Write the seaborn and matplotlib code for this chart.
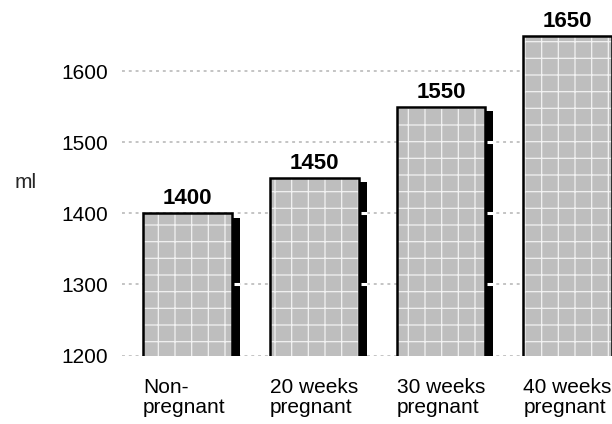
import numpy as np
import pandas as pd
import seaborn as sns
import matplotlib.pyplot as plt
import matplotlib.patheffects as pe

# data
categories = ["Non-\npregnant", "20 weeks\npregnant", "30 weeks\npregnant", "40 weeks\npregnant"]
volume_ml = [1400, 1450, 1550, 1650]
yticks = [1200, 1300, 1400, 1500, 1600]

df = pd.DataFrame({"stage": categories, "ml": volume_ml})

sns.set_theme(style="white")
plt.rcParams['font.family'] = ['Liberation Sans', 'DejaVu Sans']
plt.rcParams['hatch.linewidth'] = 0.9

fig = plt.figure(figsize=(6.12, 4.24), dpi=100)
ax = fig.add_axes([122 / 612, 68.5 / 424, 490 / 612, 355.5 / 424])

w = 0.70

# faint dotted gridlines behind the bars
ax.yaxis.grid(True, color="#c4c4c4", linestyle=(0, (1.5, 2)), linewidth=1.4)
ax.set_axisbelow(True)

# filled bars with white cross hatch and a black drop shadow
sns.barplot(data=df, x="stage", y="ml", color="#bebebe", saturation=1, width=w,
            edgecolor="#f2f2f2", linewidth=0, hatch="+", errorbar=None, ax=ax, zorder=2)
shadow = [pe.SimplePatchShadow(offset=(5.8, -3.2), shadow_rgbFace="black", alpha=1.0, hatch=None),
          pe.Normal()]
for p in ax.patches:
    p.set_path_effects(shadow)

# white notches where gridlines cross the shadow
for i, v in enumerate(volume_ml):
    for t in yticks:
        if 1200 < t < v - 10:
            ax.hlines(t, i + w / 2 + 0.016, i + w / 2 + 0.065, color="white", lw=2.2, zorder=3)

# black outlines on top
n = len(ax.patches)
sns.barplot(data=df, x="stage", y="ml", color="black", width=w, errorbar=None, ax=ax, zorder=4)
for p in ax.patches[n:]:
    p.set_facecolor("none")
    p.set_edgecolor("black")
    p.set_linewidth(1.8)

ax.bar_label(ax.containers[-1], labels=[str(v) for v in volume_ml], padding=3,
             fontsize=16, fontweight="bold", color="black")

ax.set_xlim(-0.517, 3.35)
ax.set_ylim(1200, 1700.7)
ax.set_yticks(yticks)
ax.set_xticks(np.arange(len(categories)) - w / 2)
ax.set_xticklabels(categories, ha="left")
for t in ax.get_xticklabels():
    t.set_linespacing(1.05)
ax.tick_params(axis="y", length=0, pad=9.9, labelsize=15, labelcolor="black")
ax.tick_params(axis="x", length=0, pad=16.5, labelsize=15, labelcolor="black")
ax.set_xlabel("")
ax.set_ylabel("")
for s in ax.spines.values():
    s.set_visible(False)

fig.text(26 / 612, 1 - 182 / 424, "ml", ha="center", va="center", fontsize=15)

fig.savefig("out.png", dpi=100)
